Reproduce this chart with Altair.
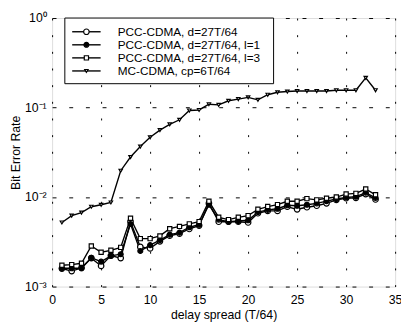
import altair as alt
import pandas as pd

delay = list(range(1, 34))

series_names = [
    "PCC-CDMA, d=27T/64",
    "PCC-CDMA, d=27T/64, l=1",
    "PCC-CDMA, d=27T/64, l=3",
    "MC-CDMA, cp=6T/64",
]

pcc = [0.00159, 0.00149, 0.00162, 0.00208, 0.0017, 0.00222, 0.00208, 0.0053, 0.00277, 0.00267,
       0.0032, 0.0037, 0.0039, 0.0044, 0.0048, 0.0085, 0.0053, 0.0053, 0.0053, 0.0052,
       0.0066, 0.0070, 0.0070, 0.0078, 0.0073, 0.0077, 0.0080, 0.0085, 0.0093, 0.0097,
       0.0098, 0.0108, 0.0094]
pcc_l1 = [0.0016, 0.0016, 0.0016, 0.0021, 0.0019, 0.0022, 0.0023, 0.0050, 0.0025, 0.0029,
          0.0033, 0.0038, 0.0040, 0.0046, 0.0049, 0.0082, 0.0056, 0.0053, 0.0054, 0.0055,
          0.0068, 0.0072, 0.0074, 0.0081, 0.0080, 0.0082, 0.0085, 0.0090, 0.0095, 0.0099,
          0.0101, 0.0112, 0.0098]
pcc_l3 = [0.00173, 0.00176, 0.00182, 0.00284, 0.00242, 0.00254, 0.00274, 0.0058, 0.00343, 0.00343,
          0.00368, 0.00443, 0.0047, 0.00502, 0.00532, 0.00897, 0.00594, 0.0056, 0.00594, 0.0062,
          0.0073, 0.00783, 0.00824, 0.00897, 0.00897, 0.0096, 0.0093, 0.0097, 0.0100, 0.0108,
          0.011, 0.0123, 0.0106]
mc = [0.0052, 0.0062, 0.0067, 0.0078, 0.0082, 0.0087, 0.0197, 0.028, 0.0367, 0.0465,
      0.056, 0.065, 0.073, 0.0927, 0.094, 0.109, 0.107, 0.119, 0.124, 0.130,
      0.122, 0.139, 0.148, 0.151, 0.153, 0.153, 0.153, 0.153, 0.156, 0.156,
      0.156, 0.215, 0.156]

x_ticks = [0, 5, 10, 15, 20, 25, 30, 35]
y_ticks = [0.001, 0.01, 0.1, 1]
y_tick_labels = ["10⁻³", "10⁻²", "10⁻¹", "10⁰"]

rows = []
for name, vals in zip(series_names, [pcc, pcc_l1, pcc_l3, mc]):
    for d, v in zip(delay, vals):
        rows.append({"delay": d, "ber": v, "series": name})
df = pd.DataFrame(rows)

legend_df = pd.DataFrame({"series": series_names, "row": list(range(len(series_names)))})

font = "Liberation Sans"
W, H = 350, 274

label_expr = " : ".join(
    f"datum.value < {t * 3:.6g} ? '{lab}'" for t, lab in zip(y_ticks[:-1], y_tick_labels[:-1])
) + f" : '{y_tick_labels[-1]}'"

x_scale = alt.Scale(domain=[0, 35], nice=False, zero=False)
y_scale = alt.Scale(type="log", domain=[0.001, 1], nice=False)

x_enc = alt.X("delay:Q", scale=x_scale,
              axis=alt.Axis(values=x_ticks, title="delay spread (T/64)", grid=True,
                            gridDash=[2, 15], gridColor="black", gridOpacity=1, gridWidth=1,
                            ticks=False, domain=False, labelPadding=7, labelFontSize=12.5,
                            labelFont=font, labelColor="black", titleFont=font,
                            titleFontSize=12.5, titleFontWeight="normal", titleColor="black",
                            titlePadding=3, labelFlush=False))
y_enc = alt.Y("ber:Q", scale=y_scale,
              axis=alt.Axis(values=y_ticks, labelExpr=label_expr, title="Bit Error Rate",
                            grid=True, gridDash=[4, 13], gridColor="black", gridOpacity=1,
                            gridWidth=1, ticks=False, domain=False, labelPadding=6,
                            labelFontSize=12.5, labelFont=font, labelColor="black",
                            titleFont=font, titleFontSize=12.5, titleFontWeight="normal",
                            titleColor="black", titlePadding=2, labelFlush=False))

shape_enc = alt.Shape("series:N", scale=alt.Scale(domain=series_names,
                      range=["circle", "circle", "square", "triangle-down"]), legend=None)
size_enc = alt.Size("series:N", scale=alt.Scale(domain=series_names, range=[32, 12, 48, 110]),
                    legend=None)
fill_enc = alt.Fill("series:N", scale=alt.Scale(domain=series_names,
                    range=["white", "black", "white", "white"]), legend=None)

lines = alt.Chart(df).mark_line(color="black", strokeWidth=1.4).encode(
    x=x_enc, y=y_enc, detail="series:N"
)

points = alt.Chart(df).mark_point(stroke="black", strokeWidth=1.2, opacity=1).encode(
    x=x_enc, y=y_enc, shape=shape_enc, size=size_enc, fill=fill_enc,
)

# legend (pixel layout converted into data units of the shared scales)
def px_x(p):
    return 35 * p / W

def px_y_expr(p_expr):
    return f"pow(10, -({p_expr}) / {H / 3})"

leg_base = alt.Chart(legend_df).transform_calculate(
    ly=px_y_expr("14 + 13.33 * datum.row"),
    top=px_y_expr("0"),
    bot=px_y_expr("67"),
    bx1=f"{px_x(13)}", bx2=f"{px_x(226)}",
    lx1=f"{px_x(20.5)}", lx2=f"{px_x(49.5)}",
    mx=f"{px_x(35)}", tx=f"{px_x(67)}",
)

leg_box = leg_base.transform_filter("datum.row == 0").mark_rect(
    fill="white", stroke="black", strokeWidth=1
).encode(
    x=alt.X("bx1:Q", scale=x_scale), x2="bx2:Q",
    y=alt.Y("top:Q", scale=y_scale), y2="bot:Q",
)

leg_lines = leg_base.mark_rule(color="black", strokeWidth=1.4).encode(
    x=alt.X("lx1:Q", scale=x_scale), x2="lx2:Q",
    y=alt.Y("ly:Q", scale=y_scale),
)

leg_points = leg_base.mark_point(stroke="black", strokeWidth=1.2, opacity=1).encode(
    x=alt.X("mx:Q", scale=x_scale), y=alt.Y("ly:Q", scale=y_scale),
    shape=shape_enc, size=size_enc, fill=fill_enc,
)

leg_text = leg_base.mark_text(align="left", baseline="middle", font=font, fontSize=12,
                              color="black").encode(
    x=alt.X("tx:Q", scale=x_scale), y=alt.Y("ly:Q", scale=y_scale), text="series:N",
)

chart = alt.layer(lines, points, leg_box, leg_lines, leg_points, leg_text).properties(
    width=W, height=H,
    autosize=alt.AutoSizeParams(type="none"),
    padding={"left": 45, "top": 7, "right": 6, "bottom": 37},
).configure_view(stroke="black", strokeWidth=1.2).configure(background="white")

chart.save("out.html", embed_options={"renderer": "svg", "actions": False})
